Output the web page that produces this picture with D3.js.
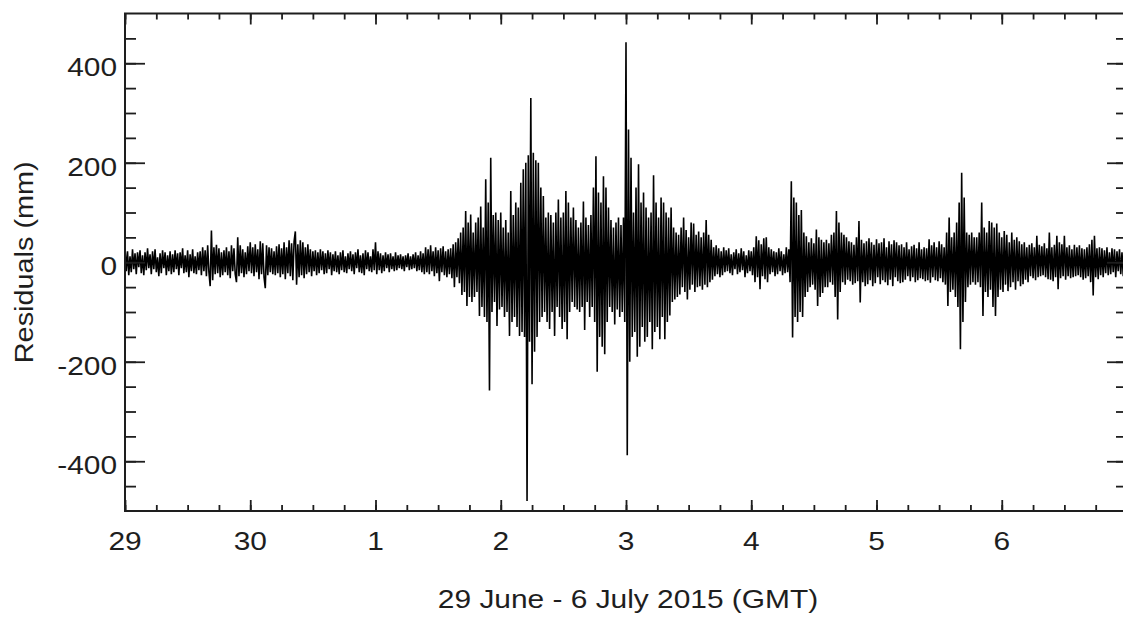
<!DOCTYPE html>
<html>
<head>
<meta charset="utf-8">
<script src="https://cdn.jsdelivr.net/npm/d3@7"></script>
<style>
  body { margin: 0; background: #fff; }
  svg text { font-family: "Liberation Sans", Arial, Helvetica, sans-serif; fill: #1e1e1e; }
</style>
</head>
<body>
<svg id="chart" width="1123" height="618"></svg>
<script>
// GNSS height residuals, one sample every 0.01 day from 29 June 2015 00:00 GMT
const startDay = 0;          // days after 29 June 2015 00:00 GMT
const stepDays = 0.01;
const residuals = [
  30, -18, 22, -26, 12, -20, 26, -14, 18, -24, 20, -10, 24, -22, 14, -26, 20, -16, 28, -12,
  16, -24, 22, -14, 26, -20, 10, -28, 18, -22, 24, -12, 20, -26, 14, -18, 22, -24, 16, -20,
  24, -14, 18, -26, 20, -12, 28, -22, 14, -20, 24, -30, 16, -18, 26, -22, 12, -24, 20, -16,
  22, -26, 30, -18, 24, -28, 34, -20, -48, 64, -36, 30, -24, 35, -22, 28, -30, 20, -26, 24,
  -20, 30, -26, 22, -32, 34, -18, 28, -24, -40, 50, -28, 34, -22, 26, -30, 20, -24, 32, -18,
  40, -22, 30, -28, 36, -20, 26, -34, 42, -24, 38, -30, -52, 34, -26, 30, -20, 28, -24, 22,
  -26, 32, -22, 36, -30, 28, -24, 40, -34, 30, -22, 44, -28, 38, -36, 42, 62, -45, 36, -30,
  44, -26, 40, -32, 30, -24, 36, -20, 26, -28, 22, -18, 24, -26, 20, -22, 26, -16, 22, -24,
  18, -22, 24, -14, 20, -26, 16, -18, 22, -20, 14, -24, 20, -16, 24, -20, 12, -22, 18, -14,
  22, -18, 16, -24, 20, -12, 26, -20, 14, -22, 18, -26, 24, -14, 20, -18, 12, -20, 26, -16,
  40, -24, 22, -16, 18, -22, 14, -18, 20, -12, 16, -20, 18, -14, 12, -18, 20, -16, 14, -12,
  16, -14, 12, -18, 14, -10, 18, -16, 12, -14, 16, -12, 20, -18, 14, -16, 22, -20, 18, -24,
  30, -20, 26, -24, 34, -18, 22, -28, 30, -22, 24, -38, 28, -20, 32, -26, 22, -30, 26, -24,
  28, -32, 36, -50, 40, -30, 48, -42, 60, -66, 70, -60, 103, -88, 80, -70, 96, -80, 60, -70,
  80, -60, 90, -108, 112, -90, 70, -110, 167, -120, 120, -258, 210, -100, 95, -80, 100, -128, 85, -95,
  100, -90, 70, -110, 85, -100, 60, -148, 143, -120, 95, -110, 120, -130, 110, -148, 160, -140, 187, -150,
  200, -480, 215, -160, 330, -245, 220, -180, 205, -150, 200, -120, 150, -110, 133, -100, 90, -120, 100, -134,
  95, -100, 80, -148, 100, -90, 126, -110, 90, -134, 100, -120, 143, -155, 120, -100, 90, -80, 110, -90,
  85, -95, 70, -100, 80, -90, 122, -136, 90, -80, 75, -110, 95, -90, 150, -120, 213, -220, 140, -150,
  120, -170, 173, -185, 150, -120, 110, -90, 85, -100, 70, -125, 80, -95, 90, -110, 75, -100, 90, -120,
  442, -388, 267, -200, 210, -150, 100, -140, 150, -190, 197, -170, 120, -130, 140, -160, 110, -150, 90, -120,
  100, -175, 175, -140, 120, -130, 90, -155, 130, -110, 120, -155, 100, -120, 90, -107, 110, -80, 70, -75,
  60, -70, 55, -65, 70, -50, 90, -60, 65, -75, 50, -55, 80, -45, 78, -60, 55, -50, 62, -48,
  50, -55, 60, -45, 85, -50, 55, -40, 45, -35, 30, -28, 34, -24, 28, -30, 22, -26, 30, -20,
  24, -18, 28, -22, 16, -26, 20, -14, 26, -24, 18, -20, 28, -16, 22, -30, 14, -22, 24, -18,
  22, -26, 30, -40, 52, -30, 44, -54, 36, -28, 48, -34, 50, -40, 30, -24, 26, -20, 22, -28,
  20, -24, 28, -18, 22, -26, 16, -22, 30, -20, 26, -40, 163, -151, 130, -110, 120, -120, 95, -100,
  105, -110, 60, -70, 52, -60, 40, -50, 48, -45, 38, -55, 66, -88, 50, -70, 45, -62, 40, -50,
  45, -50, 38, -40, 55, -45, 60, -70, 103, -115, 80, -60, 60, -40, 55, -45, 50, -35, 42, -38,
  40, -45, 35, -42, 50, -38, 83, -81, 45, -40, 38, -48, 42, -44, 48, -36, 40, -48, 35, -42,
  46, -30, 38, -44, 40, -36, 48, -40, 30, -46, 42, -35, 36, -48, 44, -30, 40, -38, 34, -42,
  36, -40, 30, -35, 40, -28, 26, -38, 32, -30, 35, -40, 28, -36, 40, -32, 26, -34, 30, -38,
  28, -36, 46, -41, 34, -30, 40, -36, 30, -38, 42, -32, 36, -40, 30, -45, 60, -88, 90, -60,
  50, -55, 60, -70, 80, -90, 120, -175, 180, -120, 130, -80, 60, -50, 55, -45, 60, -40, 50, -45,
  50, -40, 60, -50, 120, -108, 70, -60, 60, -70, 83, -55, 80, -90, 70, -108, 78, -70, 60, -55,
  50, -60, 63, -45, 55, -58, 40, -50, 60, -40, 45, -55, 50, -38, 42, -48, 36, -44, 40, -35,
  30, -40, 35, -28, 38, -32, 30, -36, 53, -30, 35, -28, 32, -26, 38, -30, 28, -34, 60, -35,
  30, -38, 35, -30, 53, -54, 40, -32, 36, -28, 53, -35, 30, -28, 34, -32, 26, -30, 35, -28,
  30, -26, 34, -30, 28, -35, 26, -32, 30, -28, 36, -40, 45, -67, 53, -30, 28, -34, 30, -26,
  28, -30, 24, -22, 30, -26, 20, -24, 28, -20, 26, -30, 22, -18, 26, -24, 20, -28, 24, -18
];

// Axis ticks and labels
const dayTicks = [0, 1, 2, 3, 4, 5, 6, 7, 8];
const dayLabels = ["29", "30", "1", "2", "3", "4", "5", "6", "7"];
const quarterDayTicks = d3.range(0, 8.001, 0.25);
const yMajorTicks = [-400, -200, 0, 200, 400];
const yMinorTicks = d3.range(-450, 451, 50);
const xTitle = "29 June - 6 July 2015 (GMT)";
const yTitle = "Residuals (mm)";

const svg = d3.select("#chart");
const plotLeft = 125, plotRight = 1127, plotTop = 13.5, plotBottom = 511;

const x = d3.scaleLinear().domain([0, 8]).range([plotLeft, plotRight]);
const y = d3.scaleLinear().domain([-500, 500]).range([plotBottom, plotTop]);

const ink = "#1e1e1e";
const stretch = 1.15;   // horizontal widening of the label glyphs

// clip for the trace
svg.append("defs").append("clipPath").attr("id", "plot-clip")
  .append("rect").attr("x", plotLeft).attr("y", plotTop)
  .attr("width", plotRight - plotLeft).attr("height", plotBottom - plotTop);

// residual trace
const line = d3.line()
  .x((d, i) => x(startDay + i * stepDays))
  .y(d => y(d));

svg.append("path")
  .datum(residuals)
  .attr("clip-path", "url(#plot-clip)")
  .attr("fill", "none")
  .attr("stroke", "#000")
  .attr("stroke-width", 1.6)
  .attr("stroke-linejoin", "bevel")
  .attr("d", line);

// inward-pointing ticks on all four sides
function styleAxis(g) {
  g.select(".domain").remove();
  g.selectAll(".tick line").attr("stroke", ink).attr("stroke-width", 1.8);
  g.selectAll(".tick text").remove();
}
const noLabel = () => "";

svg.append("g").attr("transform", `translate(0,${plotBottom})`)
  .call(d3.axisBottom(x).tickValues(dayTicks).tickSize(-11).tickFormat(noLabel)).call(styleAxis);
svg.append("g").attr("transform", `translate(0,${plotBottom})`)
  .call(d3.axisBottom(x).tickValues(quarterDayTicks).tickSize(-6).tickFormat(noLabel)).call(styleAxis);
svg.append("g").attr("transform", `translate(0,${plotTop})`)
  .call(d3.axisTop(x).tickValues(dayTicks).tickSize(-11).tickFormat(noLabel)).call(styleAxis);
svg.append("g").attr("transform", `translate(0,${plotTop})`)
  .call(d3.axisTop(x).tickValues(quarterDayTicks).tickSize(-6).tickFormat(noLabel)).call(styleAxis);

svg.append("g").attr("transform", `translate(${plotLeft},0)`)
  .call(d3.axisLeft(y).tickValues(yMajorTicks).tickSize(-20).tickFormat(noLabel)).call(styleAxis);
svg.append("g").attr("transform", `translate(${plotLeft},0)`)
  .call(d3.axisLeft(y).tickValues(yMinorTicks).tickSize(-11).tickFormat(noLabel)).call(styleAxis);
svg.append("g").attr("transform", `translate(${plotRight},0)`)
  .call(d3.axisRight(y).tickValues(yMajorTicks).tickSize(-20).tickFormat(noLabel)).call(styleAxis);
svg.append("g").attr("transform", `translate(${plotRight},0)`)
  .call(d3.axisRight(y).tickValues(yMinorTicks).tickSize(-11).tickFormat(noLabel)).call(styleAxis);

// plot frame
svg.append("rect")
  .attr("x", plotLeft).attr("y", plotTop)
  .attr("width", plotRight - plotLeft).attr("height", plotBottom - plotTop)
  .attr("fill", "none").attr("stroke", ink).attr("stroke-width", 2);

// y tick labels
svg.append("g").selectAll("text")
  .data(yMajorTicks)
  .join("text")
  .attr("transform", d => `translate(${plotLeft - 8},${y(d) + 13}) scale(${stretch},1)`)
  .attr("text-anchor", "end")
  .attr("font-size", 26)
  .text(d => d);

// x tick labels
svg.append("g").selectAll("text")
  .data(dayTicks.slice(0, 8))
  .join("text")
  .attr("transform", d => `translate(${x(d)},550) scale(${stretch},1)`)
  .attr("text-anchor", "middle")
  .attr("font-size", 26)
  .text((d, i) => dayLabels[i]);

// axis titles
svg.append("text")
  .attr("transform", `translate(${(plotLeft + plotRight) / 2 + 2},608) scale(${stretch},1)`)
  .attr("text-anchor", "middle")
  .attr("font-size", 26)
  .text(xTitle);

svg.append("text")
  .attr("transform", `translate(33,${(plotTop + plotBottom) / 2}) rotate(-90) scale(1.11,1)`)
  .attr("text-anchor", "middle")
  .attr("font-size", 26)
  .text(yTitle);
</script>
</body>
</html>
